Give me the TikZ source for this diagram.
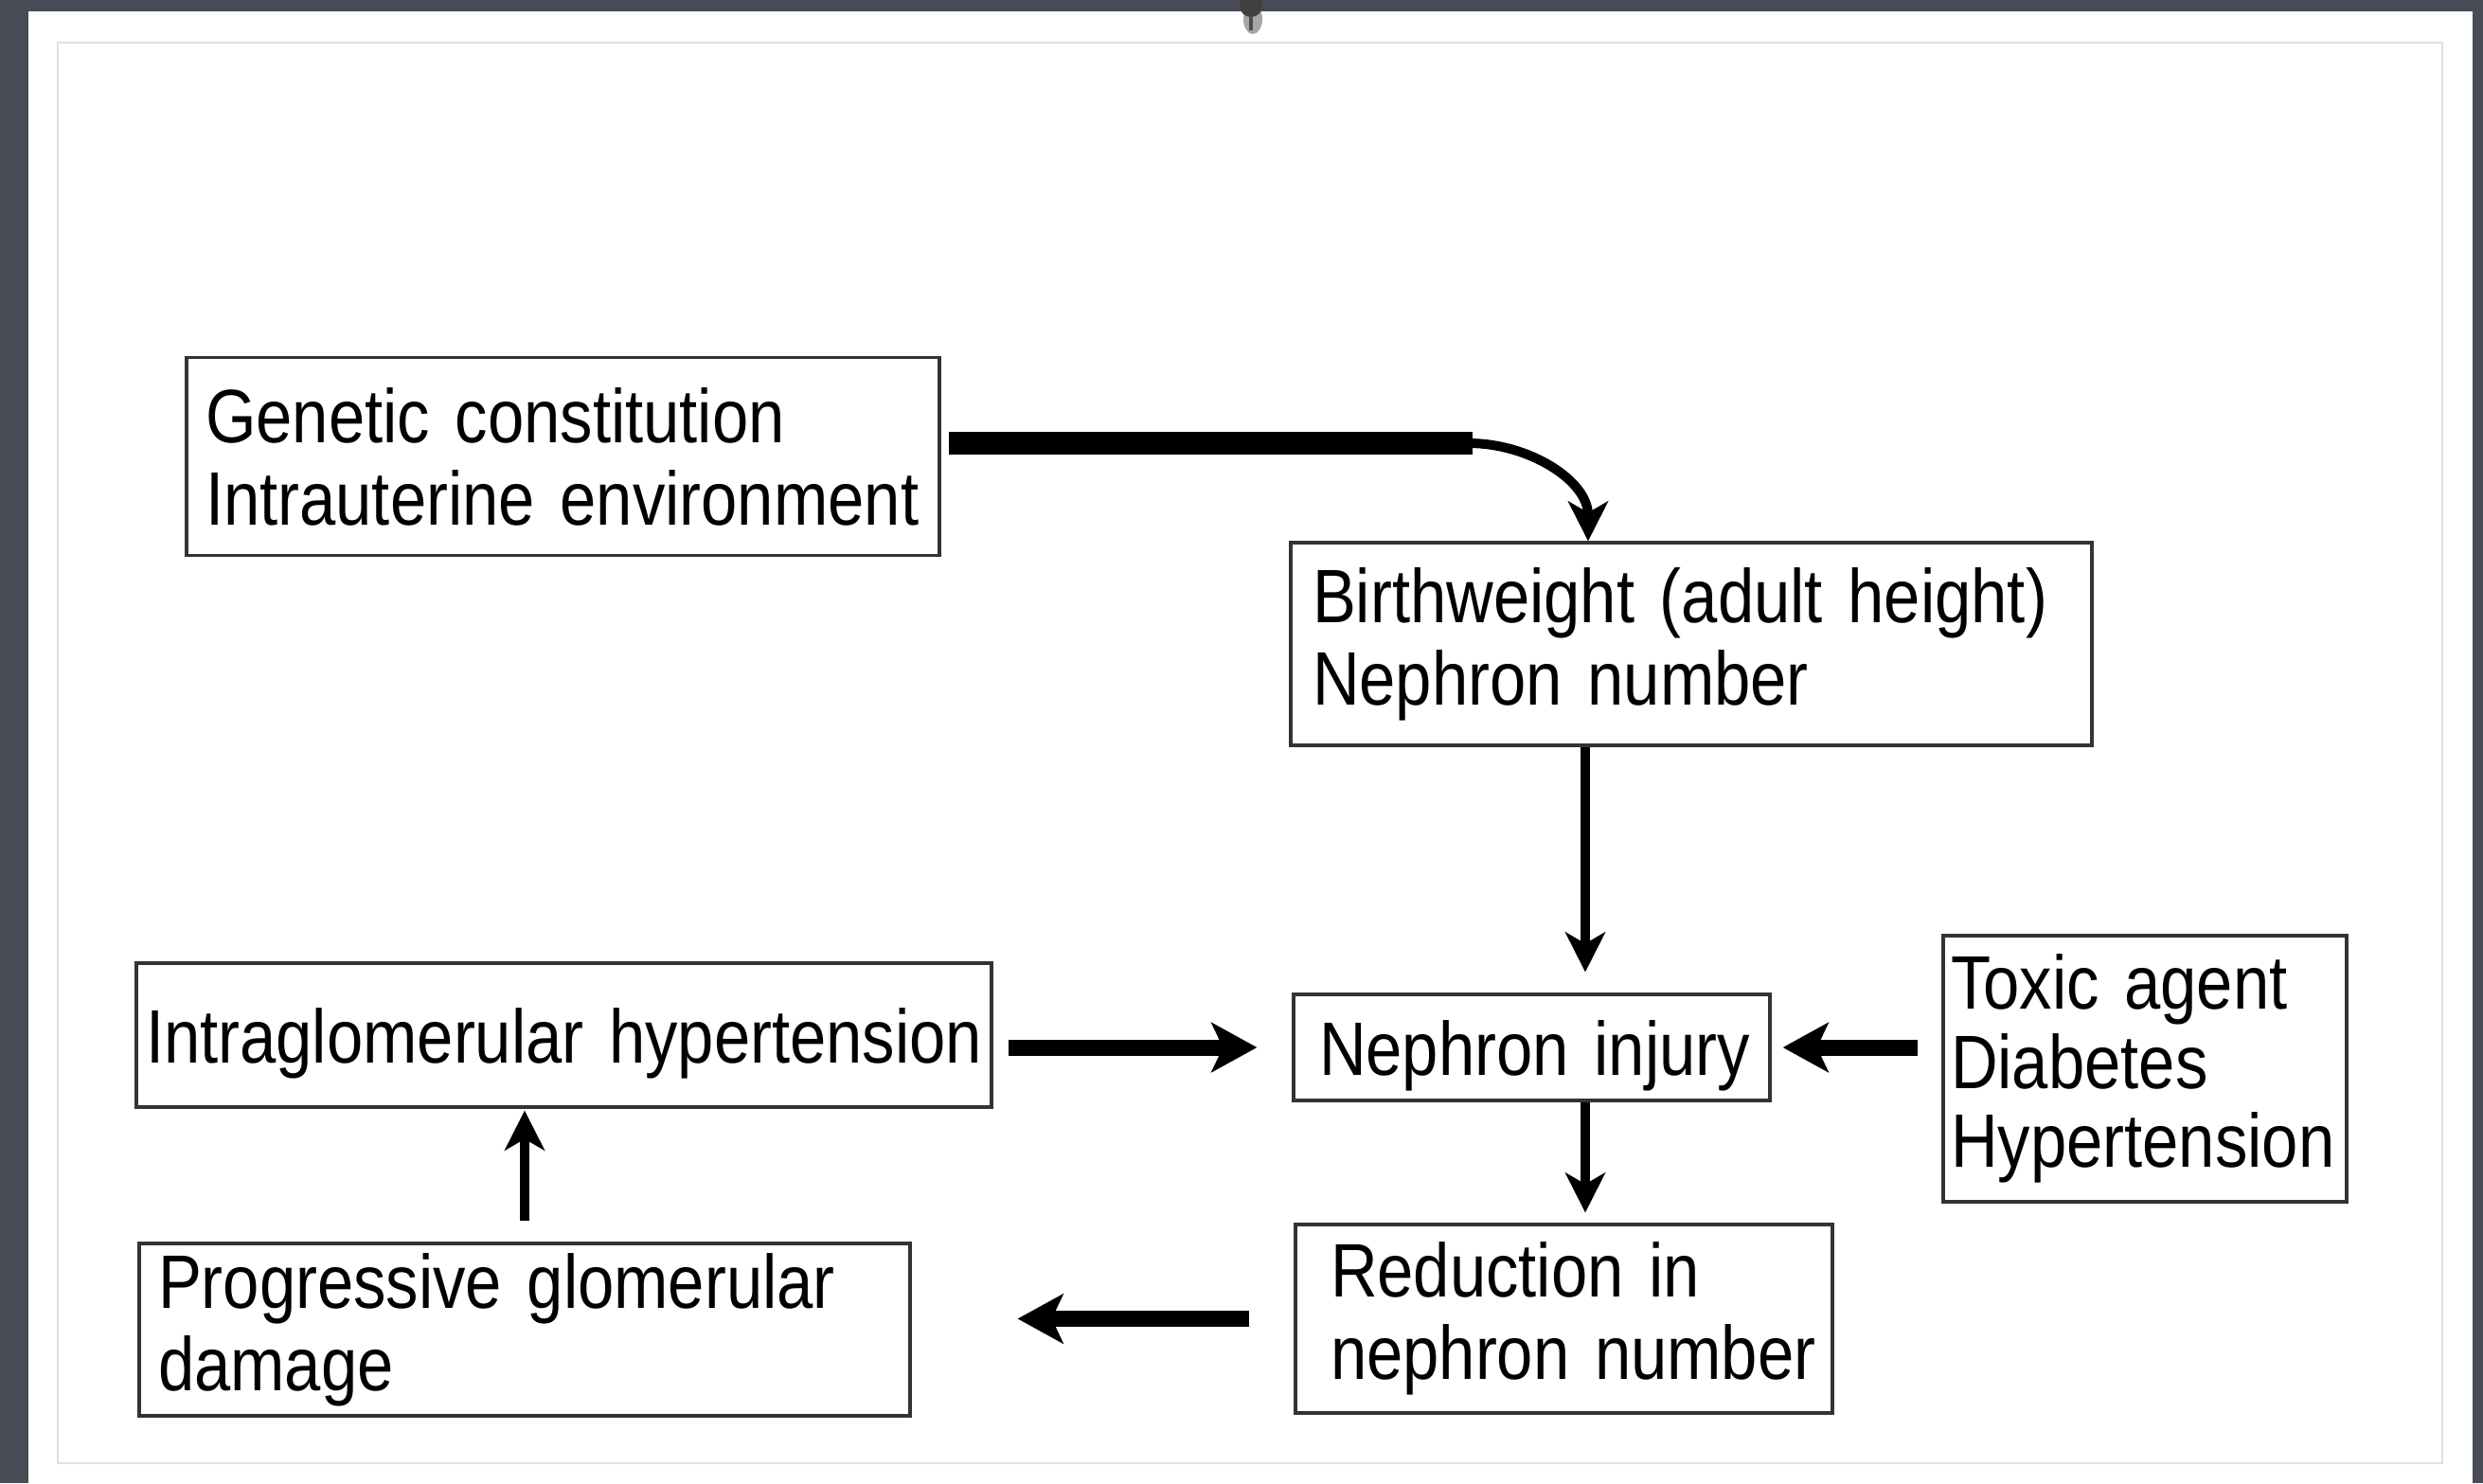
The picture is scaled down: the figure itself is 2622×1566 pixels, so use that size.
\documentclass[tikz,border=0pt]{standalone}
\usepackage{fontspec}
\setmainfont{Liberation Sans}[FakeStretch=0.86, WordSpace=0.7]
\usetikzlibrary{calc,arrows.meta}
\definecolor{slate}{RGB}{72,76,86}
\tikzset{
	flowbox/.style={draw=black!80, line width=0.8pt, fill=white, align=left, inner ysep=2pt,
		font=\fontsize{20}{21.7}\selectfont},
	fatarrow/.style={line width=4.25pt, -{Stealth[length=12pt,width=13pt,inset=3pt]}},
	thinarrow/.style={line width=2.5pt, -{Stealth[length=10.5pt,width=10.5pt,inset=3pt]}},
}

\begin{document}
\begin{tikzpicture}[x=0.25pt, y=-0.25pt]
			%%%%% START %%%%%
			
			\useasboundingbox (0, 0) rectangle (2622, 1566);
			\fill[slate] (0, 0) rectangle (2622, 1566);
			\fill[white] (30, 12) rectangle (2611, 1566);
			\draw[black!12, line width=0.5pt] (61, 45) rectangle (2579, 1545);
			
			% pin at the top
			\fill[black!35] (1323, 20) ellipse (10 and 16);
			\fill[black!75] (1321, 6) circle (12);
			\draw[black!70, line width=1pt] (1321, 16) -- (1321, 32);
			
			\node[flowbox, inner xsep=5pt, text width=188.75pt, minimum height=52.25pt] (gen) at (594.5, 482)
				{\mbox{Genetic constitution}\\\mbox{Intrauterine environment}};
			\node[flowbox, inner xsep=5.75pt, text width=200pt, minimum height=53.5pt] (birth) at (1786, 680)
				{\mbox{Birthweight (adult height)}\\\mbox{Nephron number}};
			\node[flowbox, inner xsep=2.5pt, text width=220.75pt, minimum height=38pt, text depth=0pt] (intra) at (595.5, 1093)
				{\mbox{Intraglomerular hypertension}};
			\node[flowbox, inner xsep=6.75pt, text width=112.25pt, minimum height=28pt, text depth=0pt] (injury) at (1617.5, 1106)
				{\mbox{Nephron injury}};
			\node[flowbox, inner xsep=2pt, text width=102.5pt, minimum height=70.25pt,
				font=\fontsize{20}{20.9}\selectfont] (toxic) at (2265, 1128.5)
				{\mbox{Toxic agent}\\\mbox{Diabetes}\\\mbox{Hypertension}};
			\node[flowbox, inner xsep=5pt, text width=193.5pt, minimum height=45.5pt] (prog) at (554, 1404)
				{\mbox{Progressive glomerular}\\\mbox{damage}};
			\node[flowbox, inner xsep=9.25pt, text width=123.25pt, minimum height=49.75pt] (reduc) at (1651.5, 1392.5)
				{\mbox{Reduction in}\\\mbox{nephron number}};
			
			% genetic -> birthweight
			\coordinate (bend) at (1555, 468);
			\draw[line width=6pt, shorten <=2pt] (gen.east |- bend) -- (bend);
			\draw[thinarrow] ($(bend)+(-4, 0)$) to[out=0, in=90] ($(birth.north)+(-109, 0)$);
			
			\draw[thinarrow, shorten >=5.5pt] ($(birth.south)+(-112, 0)$) -- ($(injury.north)+(56.5, 0)$);
			\draw[thinarrow, shorten >=2.75pt] ($(injury.south)+(56.5, 0)$) -- ($(reduc.north)+(22.5, 0)$);
			
			\draw[fatarrow, shorten <=4pt, shorten >=9.25pt] (intra.east |- injury.west) -- (injury.west);
			\draw[fatarrow, shorten <=6.25pt, shorten >=3pt] (toxic.west |- injury.east) -- (injury.east);
			\draw[fatarrow, shorten <=11.75pt, shorten >=28pt] (reduc.west) -- (prog.east |- reduc.west);
			\draw[thinarrow, shorten <=5.5pt, shorten >=0.5pt] (prog.north) -- (intra.south -| prog.north);
			
			%%%%% END %%%%%
\end{tikzpicture}
\end{document}
